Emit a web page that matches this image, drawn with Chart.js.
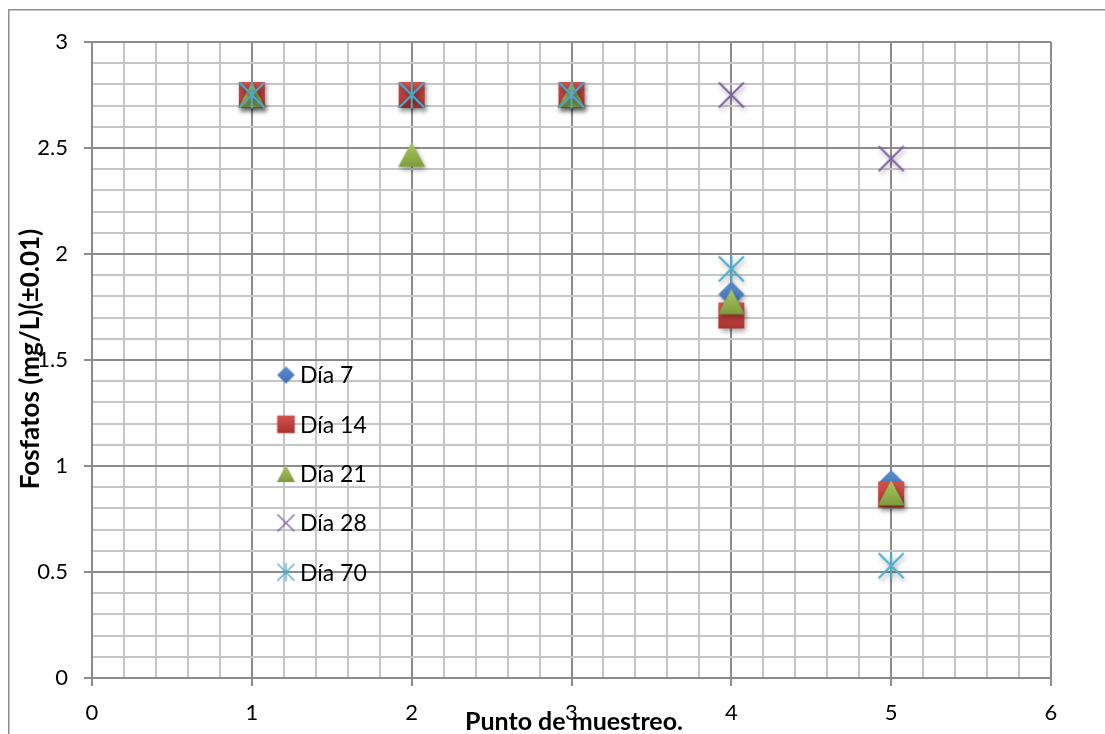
<!DOCTYPE html>
<html>
<head>
<meta charset="utf-8">
<script src="https://cdn.jsdelivr.net/npm/chart.js@4"></script>
<style>
  html, body { margin: 0; padding: 0; background: #fff; }
  #wrap { width: 1105px; height: 734px; position: relative; }
</style>
</head>
<body>
<div id="wrap"><canvas id="chart"></canvas></div>
<script>
'use strict';

// sampling points (x) and phosphate readings per day
let puntos = [1, 2, 3, 4, 5];
let dia7 = [2.75, 2.75, 2.75, 1.81, 0.92];
let dia14 = [2.75, 2.75, 2.75, 1.71, 0.865];
let dia21 = [2.75, 2.47, 2.75, 1.775, 0.873];
let dia28 = [2.75, 2.75, 2.75, 2.75, 2.45];
let dia70 = [2.75, 2.75, 2.75, 1.93, 0.53];

let seriesNames = ['Día 7', 'Día 14', 'Día 21', 'Día 28', 'Día 70'];
let xTitle = 'Punto de muestreo.';
let yTitle = 'Fosfatos (mg/L)(±0.01)';

let FONT = 'Lato, "Open Sans", sans-serif';

// marker images, Excel 2007 style with a soft drop shadow
function makeMarker(kind, k, shadow) {
  let s = Math.ceil(48 * k);
  let c = document.createElement('canvas');
  c.width = s;
  c.height = s;
  let g = c.getContext('2d');
  let cx = s / 2, cy = s / 2;
  if (shadow) {
    g.shadowColor = 'rgba(0,0,0,0.35)';
    g.shadowBlur = 5 * k;
    g.shadowOffsetX = 1.5 * k;
    g.shadowOffsetY = 3 * k;
  }
  function grad(top, bot, h) {
    let gr = g.createLinearGradient(0, cy - h, 0, cy + h);
    gr.addColorStop(0, top);
    gr.addColorStop(1, bot);
    return gr;
  }
  if (kind === 'diamond') {
    let h = 13 * k;
    g.beginPath();
    g.moveTo(cx, cy - h);
    g.lineTo(cx + h, cy);
    g.lineTo(cx, cy + h);
    g.lineTo(cx - h, cy);
    g.closePath();
    g.fillStyle = grad('#5c90d2', '#3d6db0', h);
    g.fill();
  } else if (kind === 'square') {
    let h = 13 * k;
    g.fillStyle = grad('#d2524c', '#a9322e', h);
    g.fillRect(cx - h, cy - h, 2 * h, 2 * h);
  } else if (kind === 'triangle') {
    let w = 13.5 * k, h = 12.5 * k;
    g.beginPath();
    g.moveTo(cx, cy - h);
    g.lineTo(cx + w, cy + h);
    g.lineTo(cx - w, cy + h);
    g.closePath();
    g.fillStyle = grad('#a9c862', '#7e9c3c', h);
    g.fill();
  } else if (kind === 'cross') {
    let h = 12.5 * k;
    g.strokeStyle = '#7f62a3';
    g.lineWidth = 2 * k;
    g.beginPath();
    g.moveTo(cx - h, cy - h);
    g.lineTo(cx + h, cy + h);
    g.moveTo(cx + h, cy - h);
    g.lineTo(cx - h, cy + h);
    g.stroke();
  } else if (kind === 'star') {
    let h = 12.5 * k;
    g.strokeStyle = '#4aaccb';
    g.lineWidth = 2 * k;
    g.beginPath();
    g.moveTo(cx - h, cy - h);
    g.lineTo(cx + h, cy + h);
    g.moveTo(cx + h, cy - h);
    g.lineTo(cx - h, cy + h);
    g.moveTo(cx, cy - 13.5 * k);
    g.lineTo(cx, cy + 13.5 * k);
    g.stroke();
  }
  return c;
}

let kinds = ['diamond', 'square', 'triangle', 'cross', 'star'];
let allValues = [dia7, dia14, dia21, dia28, dia70];

let datasets = [];
for (let i = 0; i < allValues.length; i++) {
  let pts = [];
  for (let j = 0; j < puntos.length; j++) {
    pts.push({ x: puntos[j], y: allValues[i][j] });
  }
  datasets.push({
    label: seriesNames[i],
    data: pts,
    pointStyle: makeMarker(kinds[i], 1, true),
    pointRadius: 14,
    showLine: false,
    order: allValues.length - i
  });
}

function isMajor(v, step) {
  let r = v / step;
  return Math.abs(r - Math.round(r)) < 1e-6;
}

// white background, outer frame, axis titles and in-plot legend
let decorations = {
  id: 'decorations',
  beforeDraw(chart) {
    let c = chart.ctx;
    c.save();
    c.fillStyle = '#fff';
    c.fillRect(0, 0, chart.width, chart.height);
    c.strokeStyle = '#8c8c8c';
    c.lineWidth = 1.5;
    c.beginPath();
    c.moveTo(8.75, chart.height + 5);
    c.lineTo(8.75, 9.75);
    c.lineTo(chart.width + 5, 9.75);
    c.stroke();
    c.restore();
  },
  afterDraw(chart) {
    let c = chart.ctx;
    c.save();
    c.fillStyle = '#000';
    c.font = 'bold 25px ' + FONT;
    c.textAlign = 'center';
    c.textBaseline = 'middle';
    c.fillText(xTitle, 574, 722);
    c.font = 'bold 26px ' + FONT;
    c.translate(31, 359);
    c.rotate(-Math.PI / 2);
    c.fillText(yTitle, 0, 0);
    c.restore();

    c.save();
    c.font = '23px ' + FONT;
    c.fillStyle = '#000';
    c.textAlign = 'left';
    c.textBaseline = 'middle';
    for (let i = 0; i < seriesNames.length; i++) {
      let y = 375 + i * 49.3;
      let img = makeMarker(kinds[i], 0.68, false);
      c.drawImage(img, 286 - img.width / 2, y - img.height / 2);
      c.fillText(seriesNames[i], 300, y + 1);
    }
    c.restore();
  }
};

let chartData = {
  type: 'scatter',
  data: { datasets: datasets },
  options: {
    responsive: true,
    maintainAspectRatio: false,
    animation: false,
    layout: { padding: { top: 42, right: 54, left: 0, bottom: 0 } },
    plugins: {
      legend: { display: false },
      tooltip: { enabled: false }
    },
    scales: {
      x: {
        type: 'linear',
        min: 0,
        max: 6,
        afterFit: function (scale) { scale.height = 56; },
        ticks: {
          stepSize: 0.2,
          autoSkip: false,
          maxRotation: 0,
          maxTicksLimit: 100,
          padding: 14,
          color: '#000',
          font: { family: FONT, size: 22 },
          callback: function (v) { return isMajor(v, 1) ? String(Math.round(v)) : ''; }
        },
        grid: {
          tickLength: 8,
          lineWidth: 2,
          color: function (ctx) { return ctx.tick && isMajor(ctx.tick.value, 1) ? '#8c8c8c' : '#c6c6c6'; },
          tickColor: function (ctx) { return ctx.tick && isMajor(ctx.tick.value, 1) ? '#8c8c8c' : 'rgba(0,0,0,0)'; }
        },
        border: { color: '#8c8c8c', width: 2 }
      },
      y: {
        min: 0,
        max: 3,
        afterFit: function (scale) { scale.width = 92; },
        ticks: {
          stepSize: 0.1,
          autoSkip: false,
          maxTicksLimit: 100,
          padding: 16,
          color: '#000',
          font: { family: FONT, size: 22 },
          callback: function (v) { return isMajor(v, 0.5) ? String(Math.round(v * 10) / 10) : ''; }
        },
        grid: {
          tickLength: 8,
          lineWidth: 2,
          color: function (ctx) { return ctx.tick && isMajor(ctx.tick.value, 0.5) ? '#8c8c8c' : '#c6c6c6'; },
          tickColor: function (ctx) { return ctx.tick && isMajor(ctx.tick.value, 0.5) ? '#8c8c8c' : 'rgba(0,0,0,0)'; }
        },
        border: { color: '#8c8c8c', width: 2 }
      }
    }
  },
  plugins: [decorations]
};

let ctx = document.getElementById('chart');
new Chart(ctx, chartData);
</script>
</body>
</html>
